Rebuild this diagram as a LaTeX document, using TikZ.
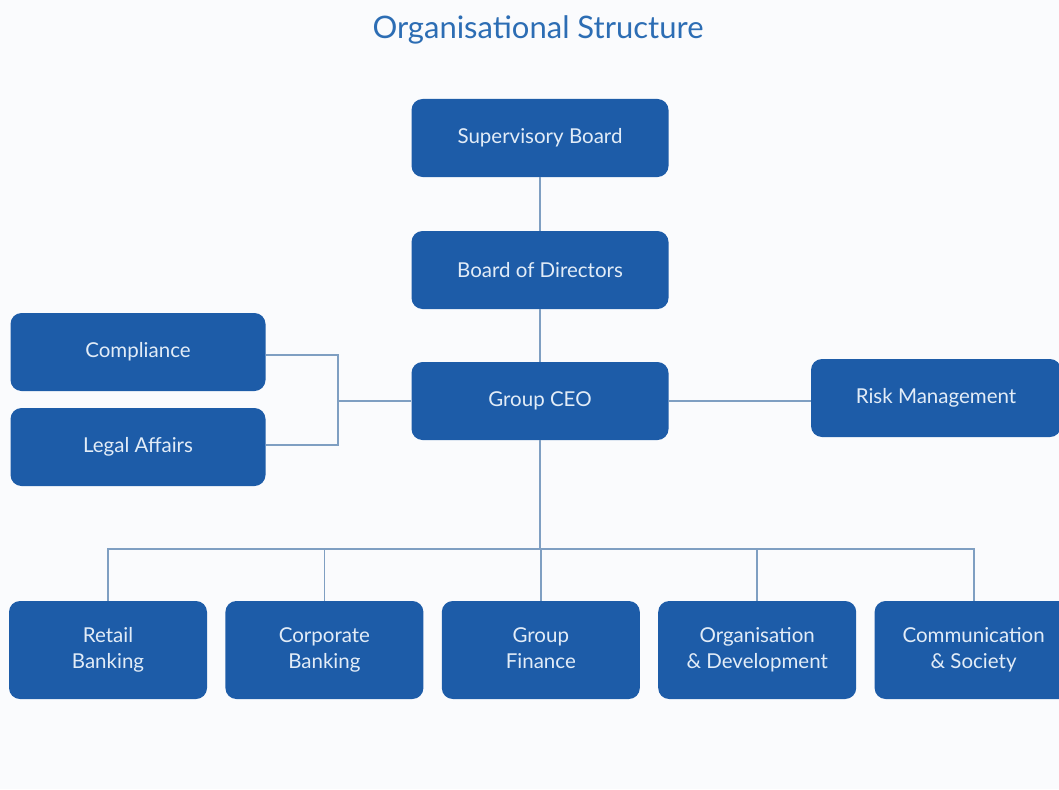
\documentclass[tikz,border=0pt]{standalone}
\usepackage{fontspec}
\setmainfont{Lato}
\usepackage{tikz}
\usetikzlibrary{positioning, calc}
\definecolor{BoxBlue}{HTML}{1D5CA8}
\definecolor{BoxText}{HTML}{E2ECF7}
\definecolor{LineBlue}{HTML}{7F9FC2}
\definecolor{TitleBlue}{HTML}{2C6DB4}
\definecolor{PageBg}{HTML}{FAFBFD}
\tikzset{
  org box/.style={rectangle, rounded corners=11pt, fill=BoxBlue, text=BoxText,
                  minimum width=257pt, minimum height=78pt, inner sep=0pt,
                  font=\fontsize{20.5}{26}\selectfont, align=center},
  side box/.style={org box, minimum width=255pt},
  unit box/.style={org box, minimum width=198pt, minimum height=98pt},
  org link/.style={draw=LineBlue, line width=1.8pt},
}

\begin{document}
\begin{tikzpicture}[x=1pt, y=-1pt]
  \fill[PageBg] (0,0) rectangle (1059,789);
  \useasboundingbox (0,0) rectangle (1059,789);

  \node[text=TitleBlue, font=\fontsize{31}{36}\selectfont] (title) at (538,30) {Organisational Structure};

  % top column
  \node[org box] (sb) at (540,138) {Supervisory Board};
  \node[org box] (bod) at (540,270) {Board of Directors};
  \node[org box] (ceo) at (540,401) {Group CEO};

  % staff units
  \node[side box] (comp) at (138,352) {Compliance};
  \node[side box] (legal) at (138,447) {Legal Affairs};
  \node[side box, minimum width=250pt] (risk) at (936,398) {Risk Management};

  % business units
  \node[unit box] (retail) at (108,650) {Retail\\Banking};
  \node[unit box, right=18pt of retail] (corp) {Corporate\\Banking};
  \node[unit box, right=18pt of corp] (fin) {Group\\Finance\vphantom{g}};
  \node[unit box, right=18pt of fin] (orgdev) {Organisation\\\& Development};
  \node[unit box, right=18pt of orgdev] (comm) {Communication\\\& Society};

  \coordinate (brk) at (338,401);
  \coordinate (bus) at (540,549);

  \path[org link] (sb) -- (bod) -- (ceo);
  \path[org link] (comp.east |- 0,355) -| (brk |- 0,355) -- (brk |- 0,445) -- (legal.east |- 0,445);
  \path[org link] (brk) -- (ceo.west);
  \path[org link] (ceo.east) -- (risk.west |- ceo.east);
  \path[org link] (ceo.south) -- (bus);
  \path[org link] (retail.north) -- (retail.north |- bus) -- (comm.north |- bus) -- (comm.north);
  \foreach \u in {corp, fin, orgdev}
    \path[org link] (\u.north) -- (\u.north |- bus);
\end{tikzpicture}
\end{document}
